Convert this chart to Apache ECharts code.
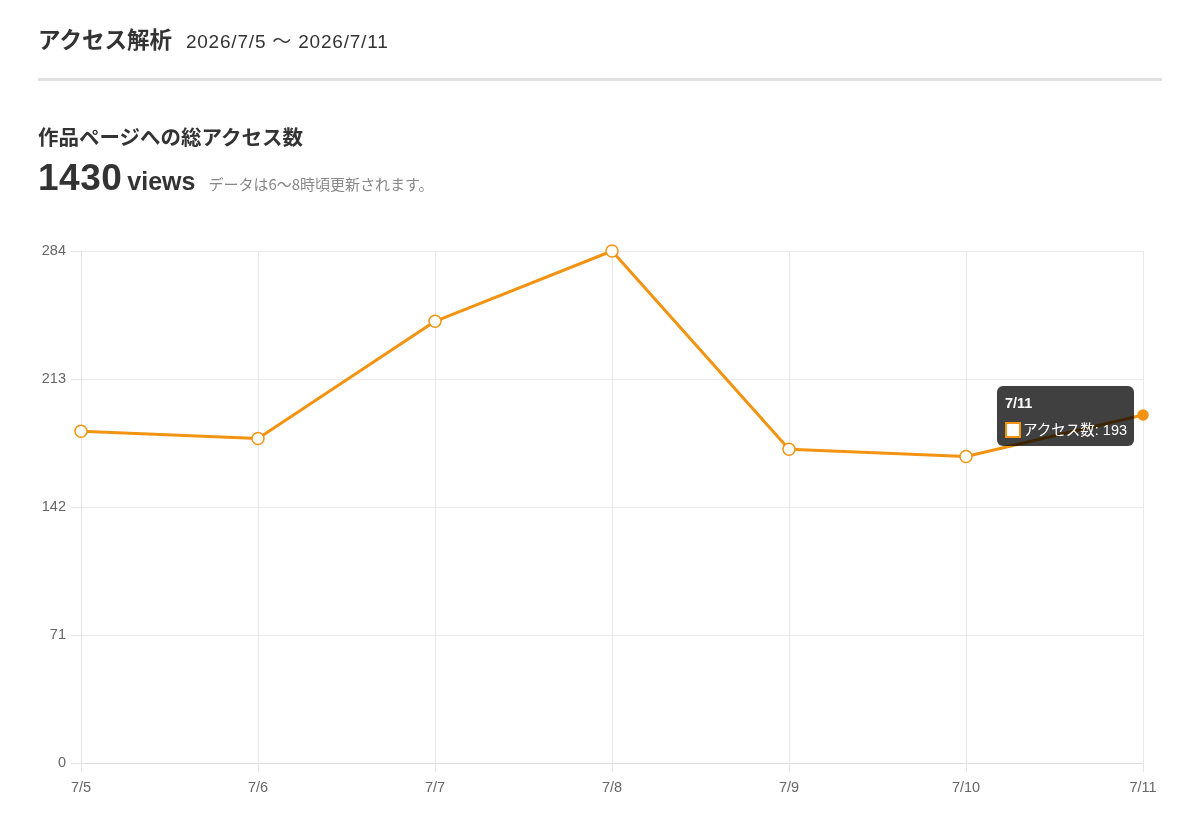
<!DOCTYPE html>
<html>
<head>
<meta charset="utf-8">
<script src="https://cdn.jsdelivr.net/npm/echarts@6/dist/echarts.min.js"></script>
<style>
html,body{margin:0;padding:0;background:#fff;width:1200px;height:833px;overflow:hidden;font-family:"Liberation Sans","Noto Sans CJK JP",sans-serif;color:#333;}
#chart{position:absolute;left:0;top:0;width:1200px;height:833px;}
.hdr{position:absolute;z-index:2;white-space:nowrap;}
#t1{left:38px;top:22px;font-size:22.5px;font-weight:bold;color:#333;font-family:"Noto Sans CJK JP",sans-serif;}
#t1 span{font-size:19px;font-weight:normal;margin-left:14px;color:#333;font-family:"Liberation Sans","Noto Sans CJK JP",sans-serif;letter-spacing:0.8px;}
#rule{position:absolute;left:38px;top:78px;width:1124px;height:3px;background:#e0e0e0;z-index:2;}
#t2{left:38px;top:121px;font-size:20.5px;font-weight:bold;color:#333;font-family:"Noto Sans CJK JP",sans-serif;}
#t3{left:38px;top:157px;color:#333;}
#t3 .n{font-size:37px;font-weight:bold;font-family:"Liberation Sans",sans-serif;letter-spacing:0.5px;}
#t3 .v{font-size:25px;font-weight:bold;margin-left:5px;font-family:"Liberation Sans",sans-serif;}
#t3 .note{font-size:15px;color:#888;margin-left:13px;font-family:"Noto Sans CJK JP",sans-serif;}
</style>
</head>
<body>
<div id="chart"></div>
<div class="hdr" id="t1">アクセス解析<span>2026/7/5 〜 2026/7/11</span></div>
<div id="rule"></div>
<div class="hdr" id="t2">作品ページへの総アクセス数</div>
<div class="hdr" id="t3"><span class="n">1430</span><span class="v">views</span><span class="note">データは6〜8時頃更新されます。</span></div>
<script>
const categories = ['7/5','7/6','7/7','7/8','7/9','7/10','7/11'];
const accessCounts = [184, 180, 245, 284, 174, 170, 193];
const seriesName = 'アクセス数';
const yTicks = [0, 71, 142, 213, 284];

const chart = echarts.init(document.getElementById('chart'));
const orange = '#F39312';
chart.setOption({
  animation: false,
  grid: { left: 81, right: 57, top: 251, bottom: 70 },
  tooltip: {
    trigger: 'item',
    alwaysShowContent: true,
    triggerOn: 'none',
    backgroundColor: 'rgba(0,0,0,0.75)',
    borderWidth: 0,
    borderRadius: 6,
    padding: [6, 7, 7, 8],
    extraCssText: 'box-shadow:none;',
    position: function (point, params, dom, rect, size) {
      return [point[0] - size.contentSize[0] - 9, point[1] - 29];
    },
    formatter: function (p) {
      return '<div style="font-family:Liberation Sans,Noto Sans CJK JP,sans-serif;color:#fff;font-size:14.5px;line-height:18px;">' +
        '<div style="font-weight:bold;margin-bottom:8px;margin-top:2px">' + p.name + '</div>' +
        '<div style="display:flex;align-items:center"><span style="display:inline-block;width:16px;height:16px;background:#fff;border:2px solid ' + orange + ';box-sizing:border-box;margin-right:2px"></span>' +
        '<span><span style="font-family:Noto Sans CJK JP,sans-serif">' + p.seriesName + '</span>: ' + p.value + '</span></div></div>';
    }
  },
  xAxis: {
    type: 'category',
    data: categories,
    boundaryGap: false,
    axisLine: { show: true, lineStyle: { color: '#ddd', width: 1 } },
    axisTick: { show: true, length: 9, lineStyle: { color: '#e5e5e5' } },
    splitLine: { show: true, lineStyle: { color: '#e8e8e8' } },
    axisLabel: { color: '#666', fontSize: 14.5, margin: 17, fontFamily: 'Liberation Sans, Arial, sans-serif' }
  },
  yAxis: {
    type: 'value',
    min: yTicks[0],
    max: yTicks[yTicks.length - 1],
    interval: yTicks[1] - yTicks[0],
    axisLine: { show: true, lineStyle: { color: '#e5e5e5' } },
    axisTick: { show: true, length: 10, lineStyle: { color: '#e5e5e5' } },
    splitLine: { show: true, lineStyle: { color: '#e8e8e8' } },
    axisLabel: { color: '#666', fontSize: 14.5, margin: 15, fontFamily: 'Liberation Sans, Arial, sans-serif' }
  },
  series: [{
    name: seriesName,
    type: 'line',
    data: accessCounts.map(function (v, i) {
      if (i === accessCounts.length - 1) {
        return { value: v, symbolSize: 10, itemStyle: { color: orange, borderColor: orange } };
      }
      return v;
    }),
    symbol: 'circle',
    symbolSize: 12,
    showAllSymbol: true,
    lineStyle: { color: orange, width: 3 },
    itemStyle: { color: '#fff', borderColor: orange, borderWidth: 1.5 },
    emphasis: { disabled: true }
  }]
});
chart.dispatchAction({ type: 'showTip', seriesIndex: 0, dataIndex: accessCounts.length - 1 });
</script>
</body>
</html>
